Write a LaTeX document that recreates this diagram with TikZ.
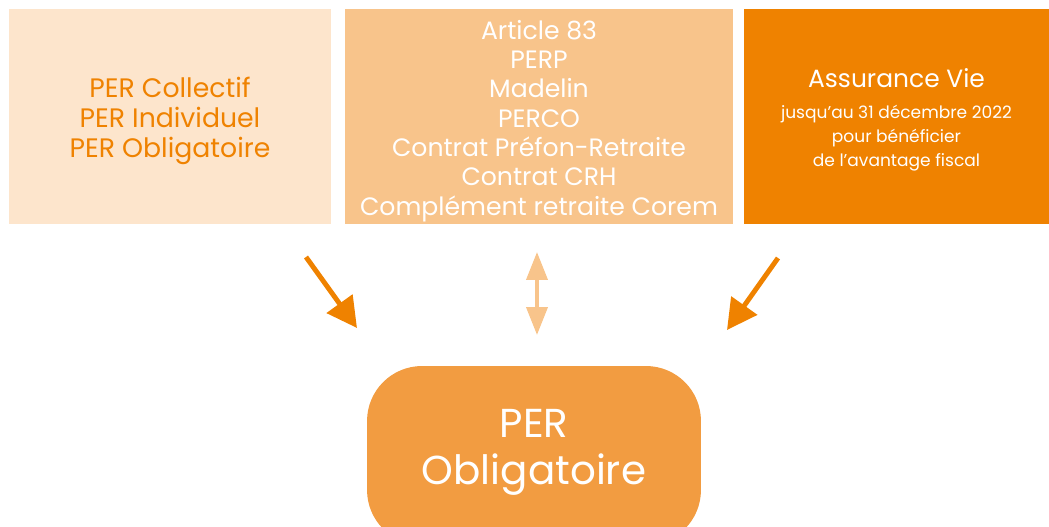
\documentclass[tikz,border=0pt]{standalone}
\usepackage{fontspec}
\setmainfont{Poppins}
\usetikzlibrary{arrows.meta,backgrounds}
\definecolor{peachlight}{HTML}{FDE5CC}
\definecolor{peachmid}{HTML}{F8C48B}
\definecolor{orangedark}{HTML}{EF8200}
\definecolor{orangebottom}{HTML}{F29C41}
\newcommand{\smalltxt}{\fontsize{9.7}{13.6}\selectfont}
\tikzset{
  box/.style={minimum height=4.3cm,inner sep=0pt},
  boxtext/.style={inner sep=0pt,align=center,font=\fontsize{14.3}{16.7}\selectfont},
  bigarrow/.style={orangedark,line width=2.8pt,-{Triangle[length=0.6cm,width=0.62cm]}},
  twoarrow/.style={peachmid,line width=2.3pt,{Triangle[length=0.56cm,width=0.42cm]}-{Triangle[length=0.56cm,width=0.42cm]}}
}
\begin{document}
\begin{tikzpicture}[x=0.02cm,y=-0.02cm]
\useasboundingbox (0,0) rectangle (1049,527);
\clip (0,0) rectangle (1049,527);
% boxes on top
\node[box,fill=peachlight,minimum width=6.44cm] (collectif) at (170,116.5) {};
\node[box,fill=peachmid,minimum width=7.76cm] (article) at (539,116.5) {};
\node[box,fill=orangedark,minimum width=6.1cm] (vie) at (896.5,116.5) {};
\node[boxtext,text=orangedark,font=\fontsize{15.2}{16.9}\selectfont] (collectiftxt) at ([yshift=-0.09cm]collectif.center)
  {PER Collectif\\PER Individuel\\PER Obligatoire};
\node[boxtext,text=white] (articletxt) at ([yshift=-0.09cm]article.center)
  {Article 83\\PERP\\Madelin\\PERCO\\Contrat Préfon-Retraite\\Contrat CRH\\Complément retraite Corem};
\node[boxtext,text=white,font=\fontsize{14.2}{13.6}\selectfont] (vietxt) at ([yshift=-0.07cm]vie.center)
  {Assurance Vie\\[4pt]\smalltxt jusqu'au 31 décembre 2022\\\smalltxt pour bénéficier\\\smalltxt de l'avantage fiscal};
% box below
\node[fill=orangebottom,rounded corners=1.1cm,minimum width=6.68cm,minimum height=3.58cm] (oblig) at (534,455.5) {};
\node[boxtext,text=white,font=\fontsize{23}{26.6}\selectfont] (obligtxt) at ([yshift=0.06cm]oblig.center) {PER\\Obligatoire};
% arrows
\coordinate (a1) at (306,257);
\coordinate (b1) at (357,328);
\coordinate (a2) at (537,252);
\coordinate (b2) at (537,335);
\coordinate (a3) at (778,258);
\coordinate (b3) at (727,330);
\draw[bigarrow] (a1) -- (b1);
\draw[twoarrow] (a2) -- (b2);
\draw[bigarrow] (a3) -- (b3);
\end{tikzpicture}
\end{document}
